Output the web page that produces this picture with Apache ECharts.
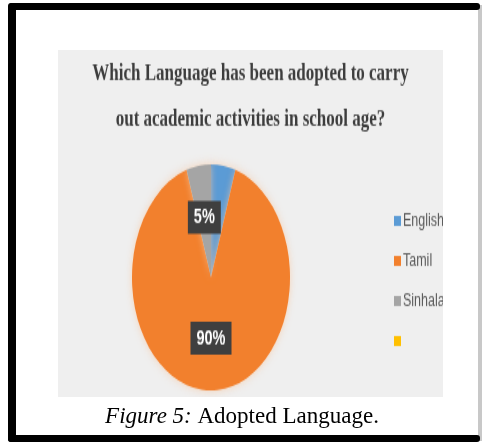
<!DOCTYPE html>
<html>
<head>
<meta charset="utf-8">
<script src="https://cdn.jsdelivr.net/npm/echarts@6/dist/echarts.min.js"></script>
<style>
  html, body { margin: 0; padding: 0; background: #ffffff; }
  #bg { position: absolute; left: 0; top: 0; width: 484px; height: 445px; }
  #plot { position: absolute; left: 58px; top: 50px; width: 385px; height: 243px;
          transform: scaleY(1.43); transform-origin: 0 0; overflow: hidden; }
</style>
</head>
<body>
<div id="bg"></div>
<div id="plot"></div>
<script>
// ---- data ----
const titleLines = ['Which Language has been adopted to carry', 'out academic activities in school age?'];
const categories = ['English', 'Tamil', 'Sinhala', ' '];
const values = [5, 90, 5, 0];
const sliceColors = ['#5b9bd5', '#f2802d', '#a5a5a5', '#ffc000'];
const captionItalic = 'Figure 5:';
const captionText = ' Adopted Language.';

// ---- background / frame / caption ----
const bg = echarts.init(document.getElementById('bg'), null, { renderer: 'canvas' });
bg.setOption({
  backgroundColor: '#ffffff',
  graphic: [
    { type: 'rect', shape: { x: 478, y: 5, width: 4, height: 436 }, style: { fill: '#c8c8c8' } },
    { type: 'rect', shape: { x: 9, y: 3, width: 471, height: 7, r: 3 }, style: { fill: '#000000' } },
    { type: 'rect', shape: { x: 8, y: 3, width: 8, height: 439, r: 3 }, style: { fill: '#000000' } },
    { type: 'rect', shape: { x: 8, y: 435, width: 472, height: 7, r: 3 }, style: { fill: '#000000' } },
    {
      type: 'text', left: 'center', top: 405,
      style: {
        text: '{i|' + captionItalic + '}{n|' + captionText + '}',
        rich: {
          i: { fontFamily: 'Liberation Serif', fontStyle: 'italic', fontSize: 23, fill: '#000' },
          n: { fontFamily: 'Liberation Serif', fontSize: 23, fill: '#000' }
        }
      }
    }
  ]
});

// ---- plot area (stretched vertically like the source image) ----
const chart = echarts.init(document.getElementById('plot'), null, { renderer: 'canvas' });
chart.setOption({
  backgroundColor: '#efefef',
  animation: false,
  color: sliceColors,
  title: titleLines.map((t, i) => ({
    text: t, left: 'center', top: i === 0 ? 3 : 35,
    textStyle: { fontFamily: 'Liberation Serif', fontWeight: 'bold', fontSize: 17, color: '#3d3d3d' }
  })),
  legend: {
    orient: 'vertical', left: 331, top: 108,
    icon: 'rect', itemWidth: 7, itemHeight: 7, itemGap: 15,
    textStyle: { fontFamily: 'Liberation Sans', fontSize: 12.5, color: '#595959', padding: [0, 0, 0, -3] },
    data: categories
  },
  series: [{
    type: 'pie',
    center: [153, 159],
    radius: 79,
    startAngle: 90,
    clockwise: true,
    avoidLabelOverlap: false,
    stillShowZeroSum: true,
    itemStyle: { shadowBlur: 6, shadowColor: 'rgba(250,200,160,0.7)' },
    label: {
      position: 'inside',
      formatter: '{d}%',
      color: '#ffffff',
      fontFamily: 'Liberation Sans',
      fontWeight: 'bold',
      fontSize: 14.5,
      backgroundColor: '#3f3f3f',
      padding: [4, 6]
    },
    labelLine: { show: false },
    data: categories.map((c, i) => ({ name: c, value: values[i], label: { show: values[i] > 0 } }))
  }]
});
</script>
</body>
</html>
